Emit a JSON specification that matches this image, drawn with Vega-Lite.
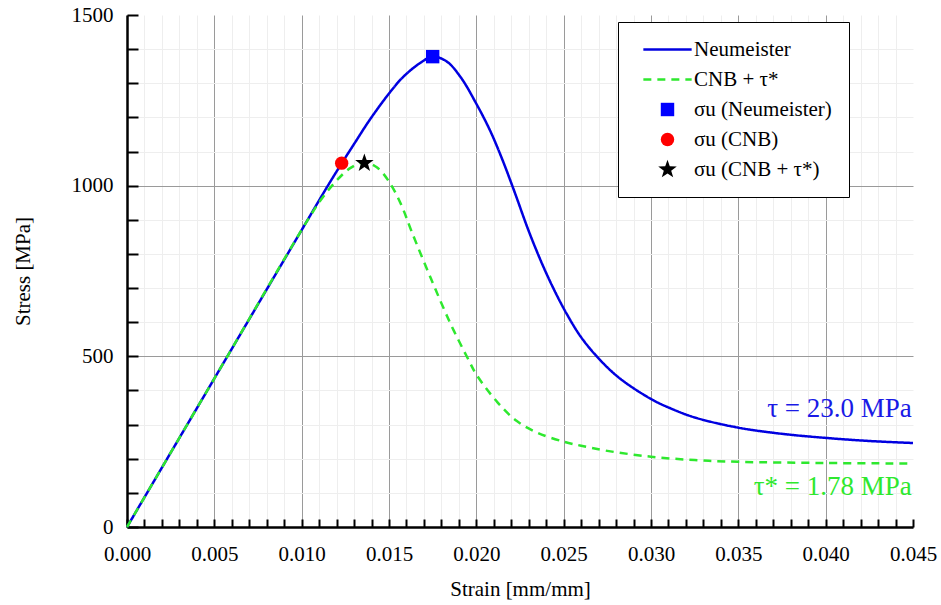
{
  "$schema": "https://vega.github.io/schema/vega-lite/v6.json",
  "width": 786,
  "height": 512,
  "autosize": {"type": "none"},
  "padding": {"left": 127, "top": 15, "right": 28, "bottom": 78},
  "background": "white",
  "config": {
    "view": {"stroke": null},
    "font": "Liberation Serif",
    "legend": {
      "orient": "none",
      "legendX": 491,
      "legendY": 7,
      "title": null,
      "labelFont": "Liberation Serif",
      "labelFontSize": 21,
      "labelColor": "black",
      "labelLimit": 400,
      "symbolSize": 180,
      "labelOffset": 16,
      "symbolOffset": 22,
      "padding": 17,
      "rowPadding": 8,
      "strokeColor": "black",
      "fillColor": "white",
      "cornerRadius": 0
    }
  },
  "datasets": {
    "curves": [
      {"series": "Neumeister", "strain": 0.0, "stress": 0},
      {"series": "Neumeister", "strain": 0.005, "stress": 435},
      {"series": "Neumeister", "strain": 0.010, "stress": 870},
      {"series": "Neumeister", "strain": 0.0115, "stress": 1000},
      {"series": "Neumeister", "strain": 0.0123, "stress": 1066},
      {"series": "Neumeister", "strain": 0.013, "stress": 1122},
      {"series": "Neumeister", "strain": 0.0139, "stress": 1193},
      {"series": "Neumeister", "strain": 0.015, "stress": 1270},
      {"series": "Neumeister", "strain": 0.0158, "stress": 1318},
      {"series": "Neumeister", "strain": 0.0168, "stress": 1360},
      {"series": "Neumeister", "strain": 0.0175, "stress": 1378},
      {"series": "Neumeister", "strain": 0.0183, "stress": 1364},
      {"series": "Neumeister", "strain": 0.0191, "stress": 1318},
      {"series": "Neumeister", "strain": 0.020, "stress": 1240},
      {"series": "Neumeister", "strain": 0.0208, "stress": 1160},
      {"series": "Neumeister", "strain": 0.0215, "stress": 1075},
      {"series": "Neumeister", "strain": 0.0222, "stress": 980},
      {"series": "Neumeister", "strain": 0.023, "stress": 867},
      {"series": "Neumeister", "strain": 0.0238, "stress": 767},
      {"series": "Neumeister", "strain": 0.0245, "stress": 690},
      {"series": "Neumeister", "strain": 0.0252, "stress": 622},
      {"series": "Neumeister", "strain": 0.026, "stress": 556},
      {"series": "Neumeister", "strain": 0.027, "stress": 494},
      {"series": "Neumeister", "strain": 0.0282, "stress": 436},
      {"series": "Neumeister", "strain": 0.030, "stress": 375},
      {"series": "Neumeister", "strain": 0.0311, "stress": 348},
      {"series": "Neumeister", "strain": 0.0325, "stress": 321},
      {"series": "Neumeister", "strain": 0.035, "stress": 291},
      {"series": "Neumeister", "strain": 0.0375, "stress": 273},
      {"series": "Neumeister", "strain": 0.040, "stress": 261},
      {"series": "Neumeister", "strain": 0.0425, "stress": 252},
      {"series": "Neumeister", "strain": 0.045, "stress": 246},
      {"series": "CNB + τ*", "strain": 0.0, "stress": 0},
      {"series": "CNB + τ*", "strain": 0.005, "stress": 435},
      {"series": "CNB + τ*", "strain": 0.0105, "stress": 912},
      {"series": "CNB + τ*", "strain": 0.0112, "stress": 965},
      {"series": "CNB + τ*", "strain": 0.012, "stress": 1015},
      {"series": "CNB + τ*", "strain": 0.0128, "stress": 1052},
      {"series": "CNB + τ*", "strain": 0.0136, "stress": 1068},
      {"series": "CNB + τ*", "strain": 0.0143, "stress": 1054},
      {"series": "CNB + τ*", "strain": 0.015, "stress": 1012},
      {"series": "CNB + τ*", "strain": 0.0157, "stress": 944},
      {"series": "CNB + τ*", "strain": 0.0163, "stress": 865},
      {"series": "CNB + τ*", "strain": 0.0174, "stress": 728},
      {"series": "CNB + τ*", "strain": 0.0185, "stress": 598},
      {"series": "CNB + τ*", "strain": 0.0195, "stress": 495},
      {"series": "CNB + τ*", "strain": 0.020, "stress": 447},
      {"series": "CNB + τ*", "strain": 0.0212, "stress": 366},
      {"series": "CNB + τ*", "strain": 0.0223, "stress": 311},
      {"series": "CNB + τ*", "strain": 0.0235, "stress": 276},
      {"series": "CNB + τ*", "strain": 0.025, "stress": 250},
      {"series": "CNB + τ*", "strain": 0.026, "stress": 238},
      {"series": "CNB + τ*", "strain": 0.0275, "stress": 223},
      {"series": "CNB + τ*", "strain": 0.030, "stress": 206},
      {"series": "CNB + τ*", "strain": 0.0325, "stress": 196},
      {"series": "CNB + τ*", "strain": 0.035, "stress": 191},
      {"series": "CNB + τ*", "strain": 0.040, "stress": 187.5},
      {"series": "CNB + τ*", "strain": 0.045, "stress": 186}
    ],
    "peaks": [
      {"series": "σu (Neumeister)", "strain": 0.0175, "stress": 1378},
      {"series": "σu (CNB)", "strain": 0.01229, "stress": 1066},
      {"series": "σu (CNB + τ*)", "strain": 0.01359, "stress": 1066}
    ]
  },
  "layer": [
    {
      "data": {"name": "curves"},
      "mark": {"type": "line", "strokeWidth": 2.5, "interpolate": "catmull-rom"},
      "encoding": {
        "x": {
          "field": "strain", "type": "quantitative",
          "scale": {"domain": [0, 0.045], "nice": false, "zero": false},
          "axis": {
            "title": "Strain [mm/mm]",
            "values": [0,0.001,0.002,0.003,0.004,0.005,0.006,0.007,0.008,0.009,0.010,0.011,0.012,0.013,0.014,0.015,0.016,0.017,0.018,0.019,0.020,0.021,0.022,0.023,0.024,0.025,0.026,0.027,0.028,0.029,0.030,0.031,0.032,0.033,0.034,0.035,0.036,0.037,0.038,0.039,0.040,0.041,0.042,0.043,0.044,0.045],
            "tickCount": 200,
            "labelExpr": "abs(datum.value*200 - round(datum.value*200)) < 0.001 ? format(datum.value, '.3f') : ''",
            "labelOverlap": false,
            "labelFlush": false,
            "labelFont": "Liberation Serif",
            "labelFontSize": 21,
            "labelColor": "black",
            "labelPadding": 24,
            "tickSize": -8,
            "tickColor": "black",
            "tickWidth": 2,
            "domainColor": "black",
            "domainWidth": 2.5,
            "grid": true,
            "gridColor": {"condition": {"test": "abs(datum.value*200 - round(datum.value*200)) < 0.001", "value": "#9a9a9a"}, "value": "#eeeeee"},
            "gridOpacity": {"condition": {"test": "datum.value > 0.0449", "value": 0}, "value": 1},
            "gridWidth": 1,
            "titleFont": "Liberation Serif",
            "titleFontSize": 21,
            "titleFontWeight": "normal",
            "titleColor": "black",
            "titleY": 51
          }
        },
        "y": {
          "field": "stress", "type": "quantitative",
          "scale": {"domain": [0, 1500], "nice": false},
          "axis": {
            "title": "Stress [MPa]",
            "values": [0,100,200,300,400,500,600,700,800,900,1000,1100,1200,1300,1400,1500],
            "tickCount": 200,
            "labelExpr": "datum.value % 500 == 0 ? format(datum.value, 'd') : ''",
            "labelOverlap": false,
            "labelFlush": false,
            "labelFont": "Liberation Serif",
            "labelFontSize": 21,
            "labelColor": "black",
            "labelPadding": 25,
            "tickSize": -11,
            "tickColor": "black",
            "tickWidth": 2,
            "domainColor": "black",
            "domainWidth": 2.5,
            "grid": true,
            "gridColor": {"condition": {"test": "datum.value % 500 == 0", "value": "#9a9a9a"}, "value": "#eeeeee"},
            "gridOpacity": {"condition": {"test": "datum.value > 1499", "value": 0}, "value": 1},
            "gridWidth": 1,
            "titleFont": "Liberation Serif",
            "titleFontSize": 21,
            "titleFontWeight": "normal",
            "titleColor": "black",
            "titleX": -104,
            "titleBaseline": "middle"
          }
        },
        "color": {
          "field": "series", "type": "nominal",
          "scale": {
            "domain": ["Neumeister", "CNB + τ*", "σu (Neumeister)", "σu (CNB)", "σu (CNB + τ*)"],
            "range": ["#0000e0", "#2ee82e", "#0000ff", "#ff0000", "#000000"]
          },
          "legend": {
            "encode": {
              "symbols": {"update": {"strokeWidth": {"signal": "indexof(['Neumeister','CNB + τ*'], datum.value) >= 0 ? 2.5 : 0"}}}
            }
          }
        },
        "strokeDash": {
          "field": "series", "type": "nominal",
          "scale": {
            "domain": ["Neumeister", "CNB + τ*", "σu (Neumeister)", "σu (CNB)", "σu (CNB + τ*)"],
            "range": [[1, 0], [8, 6], [1, 0], [1, 0], [1, 0]]
          }
        }
      }
    },
    {
      "data": {"name": "peaks"},
      "mark": {"type": "point", "filled": true, "opacity": 1, "size": 180, "strokeWidth": 0},
      "encoding": {
        "x": {"field": "strain", "type": "quantitative"},
        "y": {"field": "stress", "type": "quantitative"},
        "color": {"field": "series", "type": "nominal"},
        "shape": {
          "field": "series", "type": "nominal",
          "scale": {
            "domain": ["Neumeister", "CNB + τ*", "σu (Neumeister)", "σu (CNB)", "σu (CNB + τ*)"],
            "range": ["M-3.6,0L3.6,0", "M-3.6,0L3.6,0", "square", "circle", "M0,-1.45L0.34,-0.47L1.38,-0.45L0.55,0.18L0.85,1.17L0,0.58L-0.85,1.17L-0.55,0.18L-1.38,-0.45L-0.34,-0.47Z"]
          }
        }
      }
    },
    {
      "data": {"values": [{"strain": 0.04493, "stress": 322, "label": "τ = 23.0 MPa"}]},
      "mark": {"type": "text", "align": "right", "baseline": "alphabetic", "font": "Liberation Serif", "fontSize": 27, "color": "#1a1ae6"},
      "encoding": {
        "x": {"field": "strain", "type": "quantitative"},
        "y": {"field": "stress", "type": "quantitative"},
        "text": {"field": "label"}
      }
    },
    {
      "data": {"values": [{"strain": 0.04493, "stress": 94, "label": "τ* = 1.78 MPa"}]},
      "mark": {"type": "text", "align": "right", "baseline": "alphabetic", "font": "Liberation Serif", "fontSize": 27, "color": "#2ee82e"},
      "encoding": {
        "x": {"field": "strain", "type": "quantitative"},
        "y": {"field": "stress", "type": "quantitative"},
        "text": {"field": "label"}
      }
    }
  ]
}
